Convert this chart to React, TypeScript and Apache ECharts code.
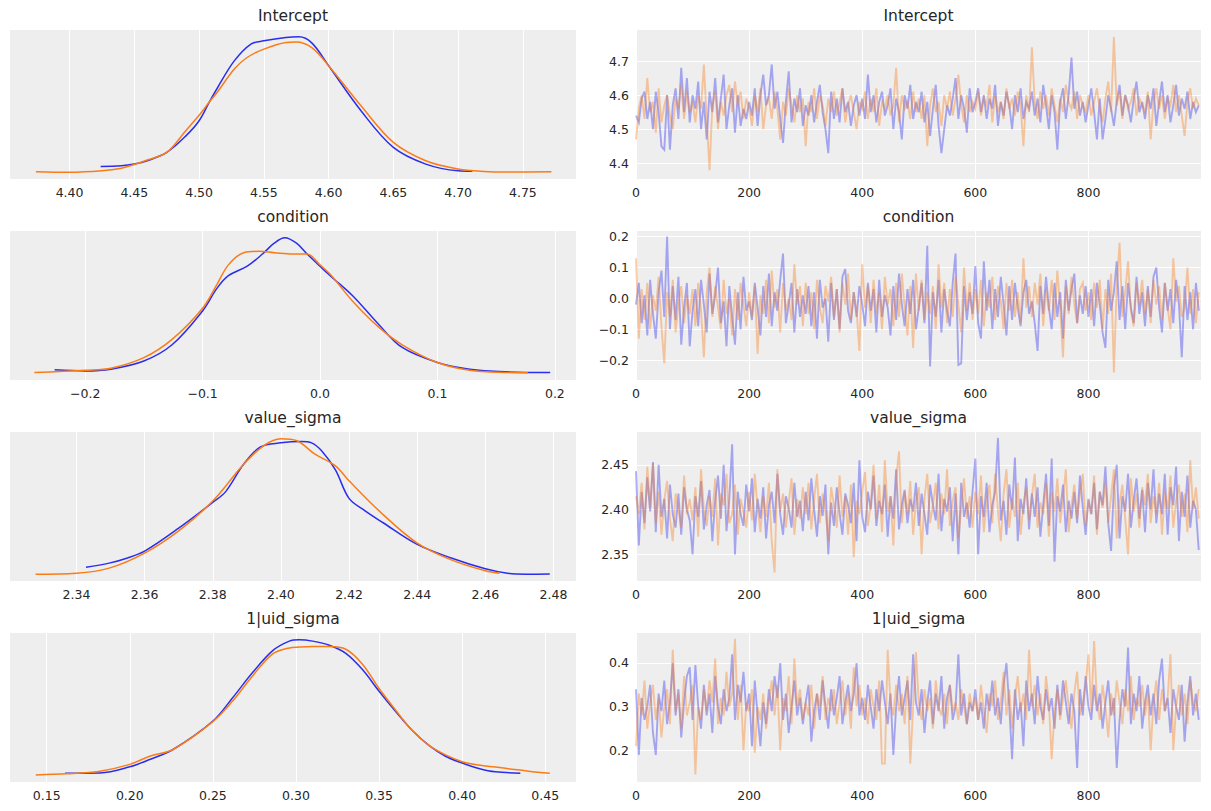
import React, { useEffect, useRef } from "react";
import * as echarts from "echarts";

// ---------- chain colours ----------
const CHAIN_COLORS = ["#2a2eec", "#fa7c17"];
const DRAW_STEP = 5; // trace values listed for every 5th draw
const LAST_DRAW = 999;

const varNames = ["Intercept", "condition", "value_sigma", "1|uid_sigma"];

// ---------- axis extents (shared by KDE x and trace y) ----------
const interceptRange = [4.354, 4.791];
const conditionRange = [-0.264, 0.218];
const valueSigmaRange = [2.3205, 2.4866];
const uidSigmaRange = [0.1279, 0.4685];

// ---------- tick labels ----------
const interceptKdeTicks = [4.4, 4.45, 4.5, 4.55, 4.6, 4.65, 4.7, 4.75];
const interceptTraceTicks = [4.4, 4.5, 4.6, 4.7];
const conditionKdeTicks = [-0.2, -0.1, 0, 0.1, 0.2];
const conditionTraceTicks = [-0.2, -0.1, 0, 0.1, 0.2];
const valueSigmaKdeTicks = [2.34, 2.36, 2.38, 2.4, 2.42, 2.44, 2.46, 2.48];
const valueSigmaTraceTicks = [2.35, 2.4, 2.45];
const uidSigmaKdeTicks = [0.15, 0.2, 0.25, 0.3, 0.35, 0.4, 0.45];
const uidSigmaTraceTicks = [0.2, 0.3, 0.4];
const drawTicks = [0, 200, 400, 600, 800];

// ---------- KDE curves: [value, relative density] ----------
const interceptKdeBlue = [
  [4.424, 0.043], [4.44, 0.047], [4.45, 0.06], [4.46, 0.085], [4.475, 0.146], [4.49, 0.27],
  [4.5, 0.38], [4.508, 0.52], [4.514, 0.62], [4.527, 0.82], [4.54, 0.946], [4.55, 0.97],
  [4.567, 0.995], [4.577, 1.0], [4.587, 0.955], [4.6, 0.786], [4.625, 0.454], [4.65, 0.183],
  [4.675, 0.06], [4.7, 0.011], [4.711, 0.008],
];
const interceptKdeOrange = [
  [4.374, 0.004], [4.4, 0.0], [4.425, 0.011], [4.44, 0.03], [4.45, 0.057], [4.46, 0.09],
  [4.475, 0.146], [4.49, 0.31], [4.5, 0.42], [4.508, 0.52], [4.514, 0.59], [4.527, 0.76],
  [4.537, 0.847], [4.55, 0.909], [4.567, 0.958], [4.575, 0.962], [4.587, 0.92], [4.6, 0.786],
  [4.625, 0.49], [4.65, 0.22], [4.675, 0.085], [4.7, 0.024], [4.72, 0.006], [4.74, 0.002],
  [4.772, 0.004],
];
const conditionKdeBlue = [
  [-0.226, 0.025], [-0.2, 0.017], [-0.178, 0.03], [-0.15, 0.09], [-0.126, 0.21], [-0.1, 0.46],
  [-0.0875, 0.63], [-0.078, 0.72], [-0.062, 0.79], [-0.049, 0.88], [-0.039, 0.96], [-0.03, 1.0],
  [-0.02, 0.96], [-0.011, 0.88], [0.0, 0.79], [0.0087, 0.72], [0.028, 0.57], [0.05, 0.36],
  [0.07, 0.19], [0.1, 0.079], [0.1275, 0.03], [0.16, 0.01], [0.196, 0.005],
];
const conditionKdeOrange = [
  [-0.2433, 0.005], [-0.2, 0.022], [-0.178, 0.037], [-0.15, 0.115], [-0.126, 0.25], [-0.1, 0.48],
  [-0.0875, 0.66], [-0.078, 0.8], [-0.065, 0.89], [-0.052, 0.9], [-0.039, 0.89], [-0.023, 0.88],
  [-0.011, 0.88], [0.0, 0.8], [0.0087, 0.73], [0.028, 0.53], [0.05, 0.34], [0.07, 0.21],
  [0.1, 0.079], [0.1275, 0.022], [0.16, 0.005], [0.177, 0.003],
];
const valueSigmaKdeBlue = [
  [2.3428, 0.052], [2.3496, 0.082], [2.355, 0.12], [2.36, 0.17], [2.37, 0.34], [2.38, 0.53],
  [2.3838, 0.61], [2.389, 0.81], [2.394, 0.94], [2.4, 0.97], [2.406, 0.98], [2.409, 0.97],
  [2.412, 0.91], [2.416, 0.77], [2.42, 0.56], [2.4246, 0.47], [2.43, 0.38], [2.44, 0.22],
  [2.45, 0.12], [2.46, 0.04], [2.4665, 0.007], [2.472, 0.0], [2.4789, 0.002],
];
const valueSigmaKdeOrange = [
  [2.328, 0.0], [2.34, 0.007], [2.3496, 0.045], [2.36, 0.156], [2.37, 0.32], [2.38, 0.54],
  [2.389, 0.81], [2.395, 0.95], [2.4, 1.0], [2.4047, 0.985], [2.41, 0.886], [2.416, 0.8],
  [2.42, 0.69], [2.43, 0.44], [2.44, 0.23], [2.45, 0.106], [2.46, 0.025], [2.4642, 0.007],
];
const uidSigmaKdeBlue = [
  [0.161, 0.015], [0.182, 0.017], [0.2, 0.062], [0.212, 0.116], [0.226, 0.19], [0.25, 0.4],
  [0.262, 0.574], [0.274, 0.76], [0.286, 0.92], [0.296, 0.99], [0.302, 1.0], [0.31, 0.99],
  [0.32, 0.96], [0.33, 0.9], [0.34, 0.78], [0.35, 0.62], [0.36, 0.47], [0.37, 0.33],
  [0.38, 0.22], [0.39, 0.14], [0.4, 0.09], [0.41, 0.05], [0.42, 0.025], [0.435, 0.015],
];
const uidSigmaKdeOrange = [
  [0.1434, 0.002], [0.162, 0.01], [0.182, 0.03], [0.2, 0.08], [0.212, 0.14], [0.226, 0.19],
  [0.25, 0.396], [0.262, 0.55], [0.274, 0.735], [0.286, 0.896], [0.296, 0.94], [0.302, 0.946],
  [0.31, 0.95], [0.32, 0.95], [0.33, 0.93], [0.34, 0.82], [0.35, 0.64], [0.36, 0.48],
  [0.37, 0.33], [0.38, 0.22], [0.39, 0.15], [0.4, 0.1], [0.41, 0.075], [0.42, 0.06],
  [0.43, 0.045], [0.44, 0.03], [0.4527, 0.015],
];

// ---------- traces (every 5th draw, 200 values per chain) ----------
const interceptTraceBlue = [
  4.54,4.52,4.59,4.61,4.53,4.58,4.50,4.61,4.55,4.45,4.44,4.60,4.44,4.57,4.62,4.53,4.68,4.55,4.65,4.52,
  4.60,4.56,4.64,4.50,4.58,4.47,4.61,4.55,4.65,4.52,4.59,4.66,4.50,4.57,4.62,4.49,4.60,4.51,4.56,4.53,
  4.58,4.54,4.62,4.51,4.60,4.66,4.57,4.60,4.69,4.56,4.61,4.53,4.46,4.58,4.67,4.52,4.59,4.55,4.62,4.51,
  4.57,4.54,4.60,4.52,4.58,4.63,4.55,4.50,4.43,4.61,4.53,4.59,4.52,4.62,4.55,4.58,4.51,4.57,4.60,4.54,
  4.59,4.53,4.66,4.55,4.60,4.52,4.58,4.61,4.54,4.57,4.62,4.50,4.59,4.55,4.47,4.60,4.56,4.63,4.53,4.58,
  4.55,4.61,4.52,4.58,4.48,4.56,4.63,4.51,4.43,4.50,4.57,4.54,4.59,4.65,4.53,4.60,4.56,4.49,4.62,4.55,
  4.58,4.62,4.55,4.60,4.53,4.59,4.56,4.63,4.51,4.58,4.54,4.61,4.57,4.50,4.60,4.55,4.62,4.53,4.58,4.56,
  4.61,4.54,4.59,4.52,4.63,4.57,4.50,4.60,4.55,4.44,4.58,4.62,4.53,4.60,4.71,4.56,4.61,4.54,4.58,4.52,
  4.57,4.62,4.55,4.47,4.59,4.47,4.53,4.60,4.56,4.51,4.58,4.63,4.54,4.60,4.57,4.52,4.59,4.64,4.55,4.58,
  4.53,4.60,4.56,4.62,4.51,4.58,4.64,4.55,4.60,4.52,4.57,4.63,4.54,4.59,4.56,4.61,4.53,4.58,4.55,4.57,
];
const interceptTraceOrange = [
  4.47,4.56,4.60,4.53,4.65,4.55,4.58,4.49,4.62,4.52,4.57,4.60,4.54,4.50,4.59,4.56,4.63,4.53,4.61,4.55,
  4.58,4.52,4.60,4.56,4.69,4.53,4.38,4.57,4.61,4.50,4.58,4.54,4.60,4.63,4.55,4.64,4.57,4.61,4.53,4.59,
  4.56,4.51,4.60,4.55,4.62,4.50,4.57,4.59,4.53,4.61,4.56,4.47,4.58,4.54,4.62,4.57,4.52,4.60,4.55,4.59,
  4.45,4.58,4.55,4.62,4.53,4.60,4.57,4.51,4.59,4.55,4.61,4.54,4.58,4.62,4.52,4.57,4.60,4.55,4.50,4.58,
  4.56,4.61,4.53,4.59,4.55,4.62,4.51,4.58,4.56,4.60,4.54,4.57,4.68,4.52,4.60,4.56,4.58,4.53,4.61,4.55,
  4.59,4.53,4.60,4.45,4.57,4.62,4.55,4.58,4.51,4.60,4.56,4.61,4.54,4.59,4.66,4.57,4.52,4.60,4.55,4.58,
  4.56,4.61,4.54,4.59,4.57,4.63,4.52,4.60,4.55,4.58,4.53,4.62,4.56,4.59,4.54,4.61,4.57,4.45,4.60,4.55,
  4.74,4.58,4.53,4.61,4.56,4.60,4.54,4.62,4.57,4.52,4.59,4.55,4.63,4.58,4.56,4.61,4.53,4.60,4.57,4.55,
  4.60,4.54,4.58,4.62,4.56,4.52,4.59,4.64,4.55,4.77,4.57,4.61,4.53,4.60,4.56,4.58,4.62,4.54,4.59,4.57,
  4.55,4.61,4.47,4.58,4.62,4.56,4.60,4.53,4.59,4.57,4.63,4.55,4.60,4.54,4.48,4.58,4.62,4.56,4.59,4.57,
];
const conditionTraceBlue = [
  -0.02,0.05,-0.08,0.01,-0.12,0.06,-0.05,-0.13,0.02,0.09,-0.06,0.20,-0.10,0.04,-0.07,0.07,-0.15,-0.03,0.05,-0.155,
  -0.04,0.03,-0.09,0.06,-0.02,-0.11,0.08,-0.05,0.01,0.10,-0.08,-0.01,-0.155,0.04,-0.06,-0.15,0.02,-0.10,0.07,-0.04,
  -0.01,-0.07,0.05,-0.03,-0.12,0.04,-0.06,0.08,-0.09,0.02,-0.04,0.06,0.145,-0.08,-0.02,0.05,-0.11,0.03,-0.06,0.01,
  -0.05,0.04,-0.09,0.02,-0.13,0.06,-0.03,0.00,-0.14,0.05,-0.07,0.03,-0.10,0.07,0.095,-0.04,-0.08,0.02,-0.06,0.04,
  -0.02,-0.09,0.05,-0.04,0.03,-0.11,0.06,-0.06,0.01,-0.03,-0.12,0.04,-0.07,0.08,-0.02,-0.09,0.03,-0.05,0.06,-0.10,
  -0.03,0.05,-0.08,0.17,-0.22,0.02,-0.06,0.06,-0.11,0.03,-0.04,-0.09,0.05,0.145,-0.215,-0.21,0.04,-0.07,0.02,-0.05,
  0.105,-0.08,-0.13,0.12,-0.04,0.06,-0.10,0.03,-0.06,0.07,-0.02,-0.12,0.04,-0.07,0.05,-0.03,-0.09,0.02,0.06,-0.05,
  -0.01,-0.08,-0.17,0.04,-0.05,0.07,-0.03,-0.10,0.05,-0.06,0.02,-0.13,0.06,-0.04,0.03,0.08,-0.08,0.01,-0.05,0.04,
  -0.06,0.03,-0.09,0.05,-0.02,-0.11,-0.16,0.06,-0.04,0.02,0.12,-0.07,0.04,-0.10,0.05,-0.03,-0.08,0.07,-0.05,0.02,
  -0.09,0.04,-0.06,0.07,0.10,-0.03,-0.11,0.05,-0.04,0.03,-0.08,0.06,-0.02,-0.19,0.04,-0.07,0.02,-0.10,0.05,-0.04,
];
const conditionTraceOrange = [
  0.13,-0.13,0.03,-0.07,0.05,-0.10,0.01,-0.04,0.07,-0.09,-0.21,0.02,-0.06,0.06,-0.11,-0.02,0.04,-0.08,0.01,-0.05,
  0.03,-0.09,0.05,-0.04,-0.19,0.02,0.10,-0.06,0.04,-0.03,-0.10,0.06,-0.05,0.00,-0.12,0.03,-0.07,0.05,-0.02,-0.09,
  0.02,-0.06,0.04,-0.18,0.01,-0.05,0.06,-0.08,0.09,-0.03,0.03,-0.11,0.05,-0.04,0.00,-0.07,0.11,-0.02,0.04,-0.09,
  0.05,-0.05,0.02,-0.10,0.06,-0.03,-0.08,0.04,-0.01,0.07,-0.06,0.03,-0.11,0.05,-0.02,0.08,-0.07,0.02,-0.04,-0.17,
  0.11,-0.03,0.04,-0.08,0.06,-0.05,0.02,-0.10,0.07,-0.02,0.03,-0.09,0.05,-0.06,0.08,-0.03,-0.12,0.04,-0.16,0.08,
  -0.04,0.06,-0.07,0.02,-0.05,0.04,-0.10,0.11,-0.03,0.05,-0.08,0.03,-0.06,0.07,-0.02,-0.11,0.10,-0.04,0.05,-0.07,
  0.03,-0.05,0.06,-0.09,0.02,-0.03,0.07,-0.07,0.04,-0.01,-0.10,0.05,-0.04,0.06,-0.06,0.02,-0.08,0.13,-0.03,0.04,
  -0.06,0.05,-0.02,0.08,-0.09,0.03,-0.04,0.06,-0.07,0.09,-0.03,-0.19,0.04,-0.05,0.07,-0.02,-0.08,0.03,0.05,-0.04,
  0.02,-0.07,0.05,-0.03,0.06,-0.10,0.03,-0.05,0.08,-0.24,0.04,0.18,-0.06,0.02,0.12,-0.04,-0.09,0.05,-0.02,0.06,
  -0.05,0.03,-0.08,0.06,-0.02,0.04,-0.07,0.05,-0.03,-0.10,0.13,-0.01,0.04,-0.06,-0.03,0.10,-0.05,0.03,-0.08,0.02,
];
const valueSigmaTraceBlue = [
  2.443,2.360,2.420,2.385,2.436,2.398,2.453,2.375,2.450,2.392,2.412,2.368,2.428,2.395,2.380,2.418,2.372,2.425,2.400,2.388,
  2.350,2.415,2.392,2.432,2.378,2.405,2.422,2.365,2.410,2.438,2.390,2.450,2.376,2.412,2.473,2.350,2.420,2.395,2.382,2.428,
  2.398,2.435,2.375,2.412,2.390,2.425,2.368,2.405,2.420,2.385,2.440,2.395,2.372,2.415,2.402,2.380,2.430,2.392,2.410,2.376,
  2.420,2.388,2.435,2.400,2.370,2.415,2.393,2.428,2.350,2.408,2.382,2.425,2.396,2.372,2.418,2.405,2.385,2.430,2.365,2.455,
  2.392,2.375,2.420,2.400,2.438,2.382,2.410,2.395,2.428,2.370,2.415,2.390,2.445,2.378,2.405,2.422,2.385,2.412,2.398,2.430,
  2.382,2.418,2.395,2.372,2.428,2.405,2.388,2.440,2.376,2.412,2.398,2.425,2.365,2.418,2.350,2.430,2.392,2.408,2.380,2.420,
  2.457,2.350,2.415,2.392,2.430,2.375,2.405,2.420,2.480,2.388,2.410,2.372,2.428,2.400,2.458,2.365,2.412,2.395,2.435,2.378,
  2.418,2.392,2.425,2.370,2.405,2.440,2.382,2.457,2.342,2.415,2.398,2.428,2.375,2.410,2.390,2.420,2.385,2.438,2.402,2.372,
  2.412,2.395,2.430,2.378,2.420,2.405,2.448,2.385,2.354,2.425,2.450,2.368,2.415,2.398,2.440,2.380,2.410,2.435,2.390,2.422,
  2.375,2.430,2.400,2.445,2.385,2.418,2.395,2.440,2.372,2.425,2.405,2.448,2.365,2.420,2.392,2.438,2.380,2.410,2.400,2.355,
];
const valueSigmaTraceOrange = [
  2.415,2.395,2.430,2.378,2.448,2.402,2.452,2.385,2.420,2.372,2.410,2.432,2.390,2.365,2.418,2.400,2.380,2.438,2.395,2.412,
  2.388,2.425,2.370,2.445,2.400,2.382,2.415,2.392,2.435,2.360,2.418,2.405,2.440,2.385,2.395,2.428,2.372,2.412,2.398,2.380,
  2.420,2.388,2.440,2.402,2.375,2.415,2.392,2.430,2.365,2.330,2.445,2.398,2.418,2.380,2.408,2.435,2.372,2.412,2.390,2.425,
  2.395,2.430,2.378,2.412,2.440,2.385,2.418,2.398,2.365,2.425,2.405,2.380,2.438,2.392,2.415,2.372,2.428,2.347,2.410,2.395,
  2.420,2.442,2.382,2.405,2.450,2.390,2.428,2.375,2.455,2.398,2.415,2.360,2.435,2.465,2.385,2.420,2.395,2.432,2.372,2.410,
  2.425,2.350,2.412,2.440,2.385,2.405,2.430,2.378,2.418,2.395,2.445,2.382,2.410,2.425,2.368,2.402,2.435,2.390,2.415,2.380,
  2.420,2.395,2.438,2.375,2.410,2.428,2.385,2.440,2.398,2.365,2.418,2.445,2.380,2.412,2.392,2.430,2.372,2.405,2.425,2.388,
  2.415,2.440,2.380,2.408,2.395,2.430,2.370,2.420,2.398,2.435,2.385,2.412,2.445,2.375,2.405,2.428,2.390,2.418,2.440,2.382,
  2.410,2.395,2.438,2.372,2.420,2.402,2.430,2.385,2.415,2.445,2.368,2.408,2.428,2.390,2.350,2.435,2.398,2.418,2.380,2.425,
  2.405,2.440,2.385,2.415,2.395,2.430,2.372,2.420,2.400,2.438,2.380,2.410,2.428,2.392,2.418,2.375,2.455,2.400,2.425,2.390,
];
const uidSigmaTraceBlue = [
  0.34,0.19,0.32,0.27,0.30,0.35,0.24,0.19,0.33,0.29,0.36,0.26,0.31,0.40,0.28,0.34,0.23,0.31,0.37,0.39,
  0.27,0.395,0.30,0.25,0.35,0.28,0.33,0.24,0.37,0.30,0.26,0.34,0.29,0.32,0.42,0.27,0.35,0.31,0.38,0.29,
  0.33,0.21,0.36,0.28,0.21,0.31,0.26,0.34,0.29,0.37,0.32,0.40,0.27,0.33,0.24,0.30,0.36,0.28,0.32,0.26,
  0.31,0.35,0.22,0.29,0.33,0.27,0.36,0.30,0.25,0.34,0.28,0.32,0.37,0.26,0.31,0.35,0.29,0.33,0.40,0.28,
  0.32,0.27,0.35,0.30,0.25,0.34,0.29,0.36,0.31,0.26,0.33,0.19,0.30,0.37,0.28,0.32,0.36,0.27,0.42,0.31,
  0.28,0.34,0.24,0.31,0.36,0.26,0.33,0.29,0.37,0.25,0.32,0.35,0.27,0.30,0.42,0.28,0.33,0.26,0.31,0.29,
  0.34,0.27,0.31,0.25,0.33,0.29,0.36,0.28,0.32,0.26,0.35,0.40,0.30,0.18,0.34,0.27,0.31,0.21,0.36,0.29,
  0.33,0.26,0.37,0.30,0.27,0.34,0.29,0.32,0.25,0.35,0.28,0.36,0.31,0.26,0.33,0.29,0.16,0.34,0.28,0.37,
  0.30,0.27,0.35,0.29,0.33,0.25,0.31,0.36,0.28,0.32,0.16,0.27,0.34,0.30,0.435,0.26,0.33,0.29,0.37,0.25,
  0.31,0.35,0.28,0.33,0.26,0.36,0.41,0.29,0.32,0.24,0.34,0.30,0.27,0.35,0.22,0.31,0.37,0.28,0.33,0.27,
];
const uidSigmaTraceOrange = [
  0.21,0.33,0.28,0.36,0.25,0.31,0.35,0.27,0.32,0.23,0.30,0.34,0.26,0.43,0.29,0.33,0.25,0.37,0.28,0.31,
  0.35,0.145,0.30,0.27,0.34,0.29,0.36,0.31,0.41,0.26,0.32,0.28,0.38,0.30,0.33,0.455,0.27,0.35,0.20,0.31,
  0.29,0.34,0.195,0.30,0.27,0.33,0.25,0.31,0.36,0.28,0.35,0.20,0.32,0.29,0.37,0.26,0.41,0.30,0.34,0.27,
  0.31,0.28,0.35,0.25,0.33,0.30,0.37,0.27,0.32,0.29,0.34,0.26,0.31,0.36,0.28,0.33,0.25,0.39,0.30,0.35,
  0.28,0.32,0.26,0.34,0.30,0.27,0.36,0.17,0.17,0.43,0.31,0.28,0.35,0.29,0.33,0.26,0.37,0.17,0.30,0.425,
  0.31,0.27,0.34,0.29,0.32,0.25,0.36,0.30,0.28,0.33,0.26,0.35,0.29,0.31,0.27,0.34,0.30,0.26,0.33,0.29,
  0.32,0.27,0.35,0.29,0.24,0.33,0.30,0.36,0.27,0.31,0.38,0.28,0.34,0.25,0.32,0.37,0.29,0.33,0.27,0.43,
  0.30,0.35,0.28,0.33,0.26,0.37,0.31,0.18,0.29,0.34,0.27,0.32,0.36,0.30,0.25,0.33,0.38,0.28,0.31,0.35,
  0.42,0.29,0.45,0.31,0.27,0.35,0.30,0.23,0.33,0.28,0.36,0.31,0.26,0.34,0.29,0.37,0.27,0.32,0.30,0.35,
  0.28,0.33,0.20,0.31,0.36,0.27,0.34,0.29,0.32,0.42,0.20,0.30,0.35,0.28,0.33,0.26,0.36,0.31,0.29,0.34,
];

// ---------- panel table built from the arrays above ----------
const panels = [
  { name: varNames[0], range: interceptRange, kdeTicks: interceptKdeTicks, kdeDec: 2, traceTicks: interceptTraceTicks, traceDec: 1,
    kde: [interceptKdeBlue, interceptKdeOrange], trace: [interceptTraceBlue, interceptTraceOrange] },
  { name: varNames[1], range: conditionRange, kdeTicks: conditionKdeTicks, kdeDec: 1, traceTicks: conditionTraceTicks, traceDec: 1,
    kde: [conditionKdeBlue, conditionKdeOrange], trace: [conditionTraceBlue, conditionTraceOrange] },
  { name: varNames[2], range: valueSigmaRange, kdeTicks: valueSigmaKdeTicks, kdeDec: 2, traceTicks: valueSigmaTraceTicks, traceDec: 2,
    kde: [valueSigmaKdeBlue, valueSigmaKdeOrange], trace: [valueSigmaTraceBlue, valueSigmaTraceOrange] },
  { name: varNames[3], range: uidSigmaRange, kdeTicks: uidSigmaKdeTicks, kdeDec: 2, traceTicks: uidSigmaTraceTicks, traceDec: 1,
    kde: [uidSigmaKdeBlue, uidSigmaKdeOrange], trace: [uidSigmaTraceBlue, uidSigmaTraceOrange] },
];

const FONT = "DejaVu Sans";
const TEXT_COLOR = "#262626";
const BG = "#eeeeee";

function fmt(dec: number) {
  return (v: number) => {
    const s = Math.abs(v) < 1e-9 ? (0).toFixed(dec) : v.toFixed(dec);
    return s.replace("-", "\u2212");
  };
}

function buildOption() {
  const grid: any[] = [];
  const xAxis: any[] = [];
  const yAxis: any[] = [];
  const series: any[] = [];
  const graphic: any[] = [];
  const LEFT_X = 10, LEFT_W = 566, RIGHT_X = 636, RIGHT_W = 565;
  const TOP0 = 30, ROW_STEP = 201, H = 149;

  const labelStyle = { color: TEXT_COLOR, fontSize: 12.5, fontFamily: FONT };
  const split = { show: true, lineStyle: { color: "#ffffff", width: 1 } };

  panels.forEach((p, r) => {
    const top = TOP0 + ROW_STEP * r;
    const gk = r * 2;
    const gt = r * 2 + 1;
    grid.push({ left: LEFT_X, top, width: LEFT_W, height: H, show: true, backgroundColor: BG, borderWidth: 0, containLabel: false, outerBoundsMode: "none" });
    grid.push({ left: RIGHT_X, top, width: RIGHT_W, height: H, show: true, backgroundColor: BG, borderWidth: 0, containLabel: false, outerBoundsMode: "none" });

    // KDE axes
    xAxis.push({
      gridIndex: gk, type: "value", min: p.range[0], max: p.range[1],
      axisLine: { show: false }, axisTick: { show: false, customValues: p.kdeTicks },
      axisLabel: { ...labelStyle, customValues: p.kdeTicks, formatter: fmt(p.kdeDec), margin: 7, hideOverlap: false },
      splitLine: split,
    });
    const maxD = Math.max(...p.kde.flatMap((c) => c.map((d) => d[1])));
    yAxis.push({ gridIndex: gk, type: "value", min: -0.05 * maxD, max: 1.05 * maxD, show: false, splitLine: { show: false } });

    // Trace axes
    xAxis.push({
      gridIndex: gt, type: "value", min: 0, max: LAST_DRAW,
      axisLine: { show: false }, axisTick: { show: false, customValues: drawTicks },
      axisLabel: { ...labelStyle, customValues: drawTicks, formatter: fmt(0), margin: 7, hideOverlap: false },
      splitLine: split,
    });
    yAxis.push({
      gridIndex: gt, type: "value", min: p.range[0], max: p.range[1],
      axisLine: { show: false }, axisTick: { show: false, customValues: p.traceTicks },
      axisLabel: { ...labelStyle, customValues: p.traceTicks, formatter: fmt(p.traceDec), margin: 7, hideOverlap: false },
      splitLine: split,
    });

    p.kde.forEach((curve, c) => {
      series.push({
        type: "line", xAxisIndex: gk, yAxisIndex: gk, data: curve, showSymbol: false, symbol: "none",
        smooth: 0.35, silent: true, z: 3 + c,
        lineStyle: { color: CHAIN_COLORS[c], width: 1.5 }, itemStyle: { color: CHAIN_COLORS[c] },
      });
    });
    p.trace.forEach((vals, c) => {
      series.push({
        type: "line", xAxisIndex: gt, yAxisIndex: gt, data: vals.map((v, i) => [i * DRAW_STEP, v]),
        showSymbol: false, symbol: "none", silent: true, z: 3 + c,
        lineStyle: { color: CHAIN_COLORS[c], width: 1.9, opacity: 0.38, join: "miter" }, itemStyle: { color: CHAIN_COLORS[c] },
      });
    });

    graphic.push({
      type: "text", x: LEFT_X + LEFT_W / 2, y: top - 14,
      style: { text: p.name, textAlign: "center", textVerticalAlign: "middle", fontSize: 15.5, fontFamily: FONT, fill: TEXT_COLOR },
    });
    graphic.push({
      type: "text", x: RIGHT_X + RIGHT_W / 2, y: top - 14,
      style: { text: p.name, textAlign: "center", textVerticalAlign: "middle", fontSize: 15.5, fontFamily: FONT, fill: TEXT_COLOR },
    });
  });

  return { animation: false, backgroundColor: "#ffffff", grid, xAxis, yAxis, series, graphic };
}

export default function App() {
  const ref = useRef<HTMLDivElement>(null);
  useEffect(() => {
    if (!ref.current) return;
    const chart = echarts.init(ref.current, undefined, { renderer: "svg" });
    chart.setOption(buildOption() as any);
    return () => chart.dispose();
  }, []);
  return <div ref={ref} style={{ position: "fixed", left: 0, top: 0, width: 1211, height: 811 }} />;
}
